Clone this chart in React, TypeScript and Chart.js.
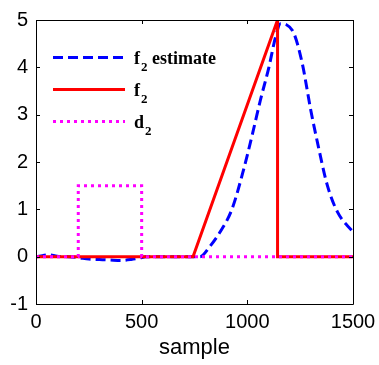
import React, { useEffect, useRef } from "react";
import { Chart, registerables } from "chart.js";

Chart.register(...registerables);

const xTickValues = [0, 500, 1000, 1500];
const yTickValues = [-1, 0, 1, 2, 3, 4, 5];

const estimateX = [0, 30, 60, 100, 150, 200, 250, 300, 350, 400, 450, 490, 520, 600, 700, 776, 820, 871, 927, 983, 1022, 1062, 1102, 1133, 1157, 1185, 1221, 1260, 1300, 1332, 1379, 1427, 1500];
const estimateY = [0, 0.02, 0.04, 0.01, 0, -0.02, -0.05, -0.06, -0.07, -0.08, -0.06, -0.03, 0, 0, 0, 0, 0.2, 0.52, 1.0, 1.85, 2.55, 3.31, 4.0, 4.63, 4.92, 4.9, 4.71, 4.08, 3.1, 2.41, 1.5, 0.94, 0.52];

const f2X = [0, 743, 1143, 1143, 1500];
const f2Y = [0, 0, 5, 0, 0];

const d2X = [0, 200, 200, 500, 500, 1500];
const d2Y = [0, 0, 1.5, 1.5, 0, 0];

const legendMain = ["f", "f", "d"];
const legendSub = ["2", "2", "2"];
const legendRest = [" estimate", "", ""];

const blue = "#0000ff";
const red = "#ff0000";
const magenta = "#ff00ff";

function pts(xs: number[], ys: number[]) {
  return xs.map((x, i) => ({ x, y: ys[i] }));
}

export default function App() {
  const ref = useRef<HTMLCanvasElement | null>(null);

  useEffect(() => {
    if (!ref.current) return;

    const framePlugin = {
      id: "frame",
      afterDraw(chart: any) {
        const ctx = chart.ctx;
        const { left, right, top, bottom } = chart.chartArea;
        const xs = chart.scales.x;
        const ys = chart.scales.y;
        ctx.save();
        ctx.strokeStyle = "#000";
        ctx.lineWidth = 1;
        ctx.beginPath();
        ctx.rect(left + 0.5, top + 0.5, right - left, bottom - top);
        ctx.stroke();
        const tl = 4;
        ctx.beginPath();
        xTickValues.forEach((v) => {
          const px = Math.round(xs.getPixelForValue(v)) + 0.5;
          ctx.moveTo(px, bottom);
          ctx.lineTo(px, bottom - tl);
          ctx.moveTo(px, top);
          ctx.lineTo(px, top + tl);
        });
        yTickValues.forEach((v) => {
          const py = Math.round(ys.getPixelForValue(v)) + 0.5;
          ctx.moveTo(left, py);
          ctx.lineTo(left + tl, py);
          ctx.moveTo(right, py);
          ctx.lineTo(right - tl, py);
        });
        ctx.stroke();

        // legend
        const styles = [
          { color: blue, dash: [10, 5] },
          { color: red, dash: [] as number[] },
          { color: magenta, dash: [3, 4] },
        ];
        const rowY = [57.5, 89.5, 121.5];
        styles.forEach((s, i) => {
          const y = rowY[i];
          ctx.strokeStyle = s.color;
          ctx.lineWidth = 3;
          ctx.setLineDash(s.dash);
          ctx.beginPath();
          ctx.moveTo(53, y);
          ctx.lineTo(125, y);
          ctx.stroke();
          ctx.setLineDash([]);
          ctx.fillStyle = "#000";
          ctx.textBaseline = "alphabetic";
          ctx.textAlign = "left";
          let tx = 134;
          const base = y + 6;
          ctx.font = "bold 18px 'Liberation Serif'";
          ctx.fillText(legendMain[i], tx, base);
          tx += ctx.measureText(legendMain[i]).width + 1;
          ctx.font = "bold 13px 'Liberation Serif'";
          ctx.fillText(legendSub[i], tx, base + 7);
          tx += ctx.measureText(legendSub[i]).width;
          if (legendRest[i]) {
            ctx.font = "bold 18px 'Liberation Serif'";
            ctx.fillText(legendRest[i], tx, base);
          }
        });
        ctx.restore();
      },
    };

    const chart = new Chart(ref.current, {
      type: "line",
      data: {
        datasets: [
          {
            label: "f2 estimate",
            data: pts(estimateX, estimateY),
            borderColor: blue,
            borderWidth: 3,
            borderDash: [10, 5],
            pointRadius: 0,
            cubicInterpolationMode: "monotone",
            order: 2,
          },
          {
            label: "f2",
            data: pts(f2X, f2Y),
            borderColor: red,
            borderWidth: 3,
            pointRadius: 0,
            order: 1,
          },
          {
            label: "d2",
            data: pts(d2X, d2Y),
            borderColor: magenta,
            borderWidth: 3,
            borderDash: [3, 4],
            pointRadius: 0,
            order: 0,
          },
        ],
      },
      options: {
        animation: false,
        responsive: true,
        maintainAspectRatio: false,
        layout: { padding: { left: 0, top: 16, right: 26, bottom: 0 } },
        plugins: { legend: { display: false }, tooltip: { enabled: false } },
        scales: {
          x: {
            type: "linear",
            min: 0,
            max: 1500,
            afterFit: (s: any) => {
              s.height = 61;
              s.paddingRight = 0;
              s.paddingLeft = 0;
            },
            afterBuildTicks: (s: any) => {
              s.ticks = xTickValues.map((v) => ({ value: v }));
            },
            grid: { display: false, drawTicks: false },
            border: { display: false },
            ticks: {
              color: "#000",
              padding: 6,
              maxRotation: 0,
              callback: (v: any) => String(v),
              font: { family: "'Liberation Sans'", size: 20 },
            },
            title: {
              display: true,
              text: "sample",
              color: "#000",
              padding: { top: 2 },
              font: { family: "'Liberation Sans'", size: 22 },
            },
          },
          y: {
            type: "linear",
            min: -1,
            max: 5,
            afterFit: (s: any) => {
              s.width = 36;
            },
            afterBuildTicks: (s: any) => {
              s.ticks = yTickValues.map((v) => ({ value: v }));
            },
            grid: { display: false, drawTicks: false },
            border: { display: false },
            ticks: {
              color: "#000",
              padding: 8,
              callback: (v: any) => String(v),
              font: { family: "'Liberation Sans'", size: 20 },
            },
          },
        },
      },
      plugins: [framePlugin],
    } as any);

    return () => chart.destroy();
  }, []);

  return (
    <div style={{ position: "absolute", left: 0, top: 0, width: 379, height: 365, background: "#fff" }}>
      <canvas ref={ref} />
    </div>
  );
}
